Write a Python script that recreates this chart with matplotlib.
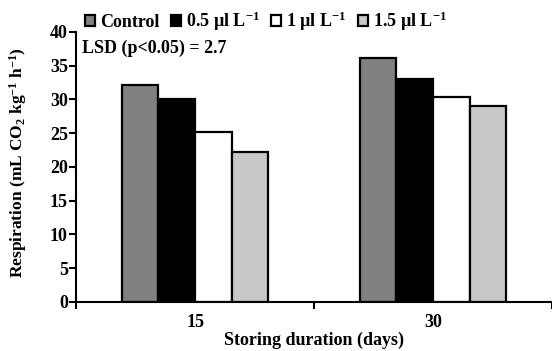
import matplotlib.pyplot as plt
import numpy as np

plt.rcParams["font.family"] = ["Liberation Serif", "DejaVu Serif"]
plt.rcParams["font.weight"] = "bold"
plt.rcParams["mathtext.fontset"] = "custom"
plt.rcParams["mathtext.rm"] = "Liberation Serif:bold"
plt.rcParams["mathtext.it"] = "Liberation Serif:bold"
plt.rcParams["mathtext.default"] = "rm"

durations = ["15", "30"]
treatments = ["Control", "0.5 µl L$^{-1}$", "1 µl L$^{-1}$", "1.5 µl L$^{-1}$"]
respiration = {
    "Control": [32.2, 36.2],
    "0.5 µl L$^{-1}$": [30.1, 33.1],
    "1 µl L$^{-1}$": [25.1, 30.4],
    "1.5 µl L$^{-1}$": [22.2, 29.0],
}
colors = ["#808080", "#000000", "#ffffff", "#c8c8c8"]

fig = plt.figure(figsize=(5.52, 3.51), dpi=100)
ax = fig.add_axes([0.138, 0.14, 0.862, 0.769])

x = np.arange(len(durations))
width = 0.154
for i, (name, col) in enumerate(zip(treatments, colors)):
    offs = (i - 1.5) * width
    ax.bar(x + offs, respiration[name], width, color=col, edgecolor="black",
           linewidth=1.6, label=name)

ax.set_xlim(-0.5, 1.5)
ax.set_ylim(0, 40)
ax.set_yticks(range(0, 41, 5))
ax.set_xticks(x)
ax.set_xticklabels(durations)
ax.set_xticks([-0.5, 0.5, 1.5], minor=True)
ax.tick_params(axis="x", which="major", length=0, labelsize=13, pad=9)
ax.tick_params(axis="x", which="minor", length=5, width=1.5)
ax.tick_params(axis="y", length=5, width=1.5, labelsize=13, pad=1)
for s in ["top", "right"]:
    ax.spines[s].set_visible(False)
for s in ["left", "bottom"]:
    ax.spines[s].set_linewidth(1.5)

ax.set_xlabel("Storing duration (days)", fontsize=13, fontweight="bold", labelpad=0)
ax.set_ylabel("Respiration (mL CO$_2$ kg$^{-1}$ h$^{-1}$)", fontsize=12.5,
              fontweight="bold")
ax.yaxis.set_label_coords(-0.10, 0.515)
ax.text(0.012, 0.94, "LSD (p<0.05) = 2.7", transform=ax.transAxes, fontsize=13,
        fontweight="bold", va="center")

fig.legend(loc="upper left", bbox_to_anchor=(0.125, 1.02), ncol=4, frameon=False,
           fontsize=13, handlelength=0.55, handleheight=0.55, handletextpad=0.3,
           columnspacing=0.6)

fig.savefig("out.png", dpi=100)
